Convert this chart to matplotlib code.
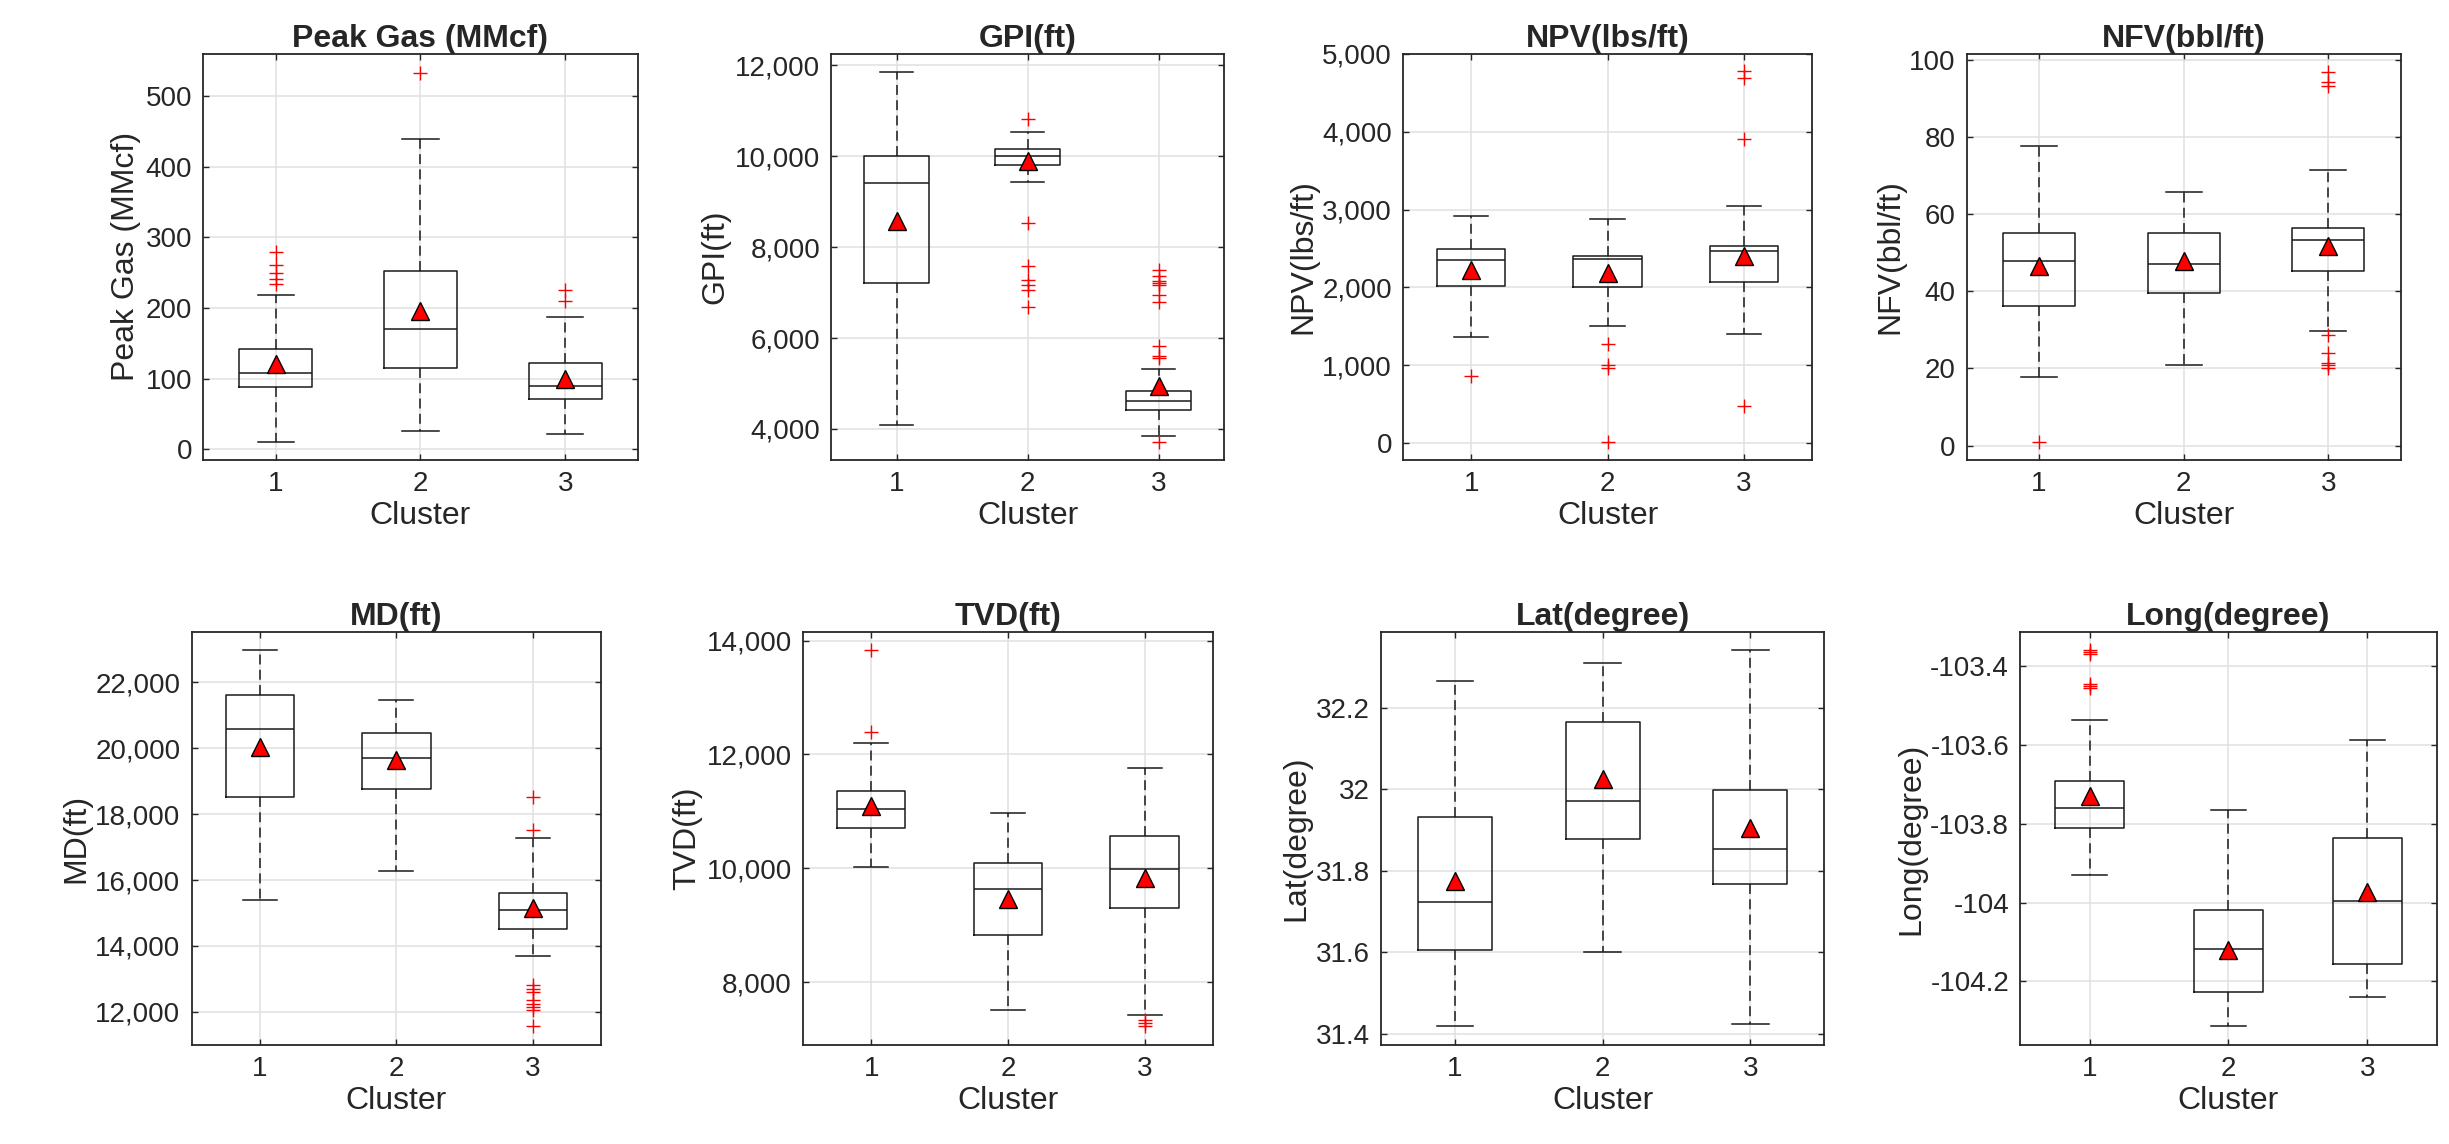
import matplotlib.pyplot as plt
import matplotlib.ticker as mticker

plt.rcParams['font.family'] = ['Liberation Sans', 'DejaVu Sans']

clusters = [1, 2, 3]

# each row: [whisker low, q1, median, q3, whisker high] for cluster 1,2,3
peak_box = [[11, 88, 108, 142, 219], [26, 115, 171, 253, 439], [21, 71, 90, 122, 187]]
peak_mean = [121, 196, 99]
peak_out = [[280, 261, 249, 241, 234], [533], [225, 210]]

gpi_box = [[4094, 7214, 9399, 9996, 11851], [9422, 9807, 10004, 10153, 10538], [3843, 4409, 4605, 4825, 5320]]
gpi_mean = [8574, 9894, 4943]
gpi_out = [[], [10813, 8527, 7591, 7269, 7159, 7049, 6672],
           [7489, 7356, 7253, 7214, 7175, 6955, 6782, 5831, 5603, 5556, 3717]]

npv_box = [[1362, 2019, 2351, 2493, 2921], [1504, 2010, 2360, 2406, 2875], [1403, 2070, 2461, 2535, 3045]]
npv_mean = [2226, 2185, 2406]
npv_out = [[860], [1279, 998, 971, 18], [4775, 4687, 3901, 478]]

nfv_box = [[17.7, 36.1, 47.8, 55.2, 77.7], [20.9, 39.6, 47.1, 55.1, 65.8], [29.7, 45.2, 53.3, 56.3, 71.4]]
nfv_mean = [46.6, 47.9, 51.7]
nfv_out = [[0.9], [], [97.0, 94.3, 93.3, 28.7, 23.9, 21.3, 20.8, 20.2]]

md_box = [[15398, 18523, 20584, 21615, 22985], [16281, 18772, 19701, 20471, 21468], [13710, 14503, 15092, 15601, 17277]]
md_mean = [20041, 19644, 15148]
md_out = [[], [], [18523, 17527, 12827, 12680, 12600, 12374, 12238, 12147, 12057, 11581]]

tvd_box = [[10020, 10715, 11036, 11364, 12203], [7515, 8833, 9626, 10098, 10970], [7423, 9298, 9993, 10564, 11770]]
tvd_mean = [11102, 9462, 9823]
tvd_out = [[13830, 12393], [], [7325, 7285, 7233]]

lat_box = [[31.418, 31.606, 31.724, 31.933, 32.267], [31.600, 31.878, 31.971, 32.164, 32.311], [31.423, 31.768, 31.853, 31.998, 32.342]]
lat_mean = [31.775, 32.024, 31.905]
lat_out = [[], [], []]

long_box = [[-103.931, -103.811, -103.759, -103.691, -103.537], [-104.313, -104.227, -104.118, -104.019, -103.765],
            [-104.241, -104.155, -103.996, -103.836, -103.586]]
long_mean = [-103.730, -104.121, -103.974]
long_out = [[-103.358, -103.364, -103.368, -103.445, -103.450, -103.455], [], []]

comma = mticker.FuncFormatter(lambda v, p: '{:,.0f}'.format(v))
plain = mticker.FormatStrFormatter('%g')

# title, box, mean, outliers, ylim, ticks, formatter, axes rect
panels = [
    ('Peak Gas (MMcf)', peak_box, peak_mean, peak_out, (-15, 560), range(0, 501, 100), plain, [0.0830, 0.598, 0.1774, 0.355]),
    ('GPI(ft)', gpi_box, gpi_mean, gpi_out, (3320, 12250), range(4000, 12001, 2000), comma, [0.3394, 0.598, 0.1604, 0.355]),
    ('NPV(lbs/ft)', npv_box, npv_mean, npv_out, (-215, 5000), range(0, 5001, 1000), comma, [0.5729, 0.598, 0.1670, 0.355]),
    ('NFV(bbl/ft)', nfv_box, nfv_mean, nfv_out, (-3.7, 101.6), range(0, 101, 20), plain, [0.8031, 0.598, 0.1771, 0.355]),
    ('MD(ft)', md_box, md_mean, md_out, (10992, 23529), range(12000, 22001, 2000), comma, [0.0782, 0.0865, 0.1673, 0.361]),
    ('TVD(ft)', tvd_box, tvd_mean, tvd_out, (6892, 14151), range(8000, 14001, 2000), comma, [0.3278, 0.0865, 0.1675, 0.361]),
    ('Lat(degree)', lat_box, lat_mean, lat_out, (31.372, 32.386), [31.4, 31.6, 31.8, 32.0, 32.2], plain, [0.5640, 0.0865, 0.1808, 0.361]),
    ('Long(degree)', long_box, long_mean, long_out, (-104.362, -103.313), [-104.2, -104.0, -103.8, -103.6, -103.4], plain, [0.8249, 0.0865, 0.1701, 0.361]),
]

fig = plt.figure(figsize=(24.49, 11.44), dpi=100)
dark = '#262626'

for title, box, mean, out, ylim, ticks, fmt, rect in panels:
    ax = fig.add_axes(rect)
    stats = []
    for i in range(3):
        lo, q1, med, q3, hi = box[i]
        stats.append(dict(whislo=lo, q1=q1, med=med, q3=q3, whishi=hi, mean=mean[i], fliers=out[i], label=str(clusters[i])))
    ax.bxp(stats, positions=clusters, widths=0.5, capwidths=0.25, showmeans=True,
           boxprops=dict(color='#1a1a1a', lw=1.1),
           medianprops=dict(color='#1a1a1a', lw=1.1),
           whiskerprops=dict(color='#1a1a1a', lw=1.1, linestyle=(0, (6.5, 3.5))),
           capprops=dict(color='#1a1a1a', lw=1.1),
           flierprops=dict(marker='+', markeredgecolor='red', markersize=10, linestyle='none', markeredgewidth=1),
           meanprops=dict(marker='^', markerfacecolor='red', markeredgecolor='black', markersize=13, markeredgewidth=1))
    ax.set_xlim(0.5, 3.5)
    ax.set_ylim(*ylim)
    ax.set_yticks(list(ticks))
    ax.yaxis.set_major_formatter(fmt)
    ax.grid(True, color='#e0e0e0', lw=1.1)
    ax.set_axisbelow(True)
    ax.tick_params(direction='in', top=True, right=True, length=4, width=1, colors=dark, labelsize=20, pad=8)
    for s in ax.spines.values():
        s.set_color(dark)
        s.set_linewidth(1.3)
    ax.set_title(title, fontsize=23, fontweight='bold', color=dark, pad=5)
    ax.set_xlabel('Cluster', fontsize=23, color=dark, labelpad=3)
    ax.set_ylabel(title, fontsize=23, color=dark, labelpad=3)

fig.savefig('out.png', dpi=100)
